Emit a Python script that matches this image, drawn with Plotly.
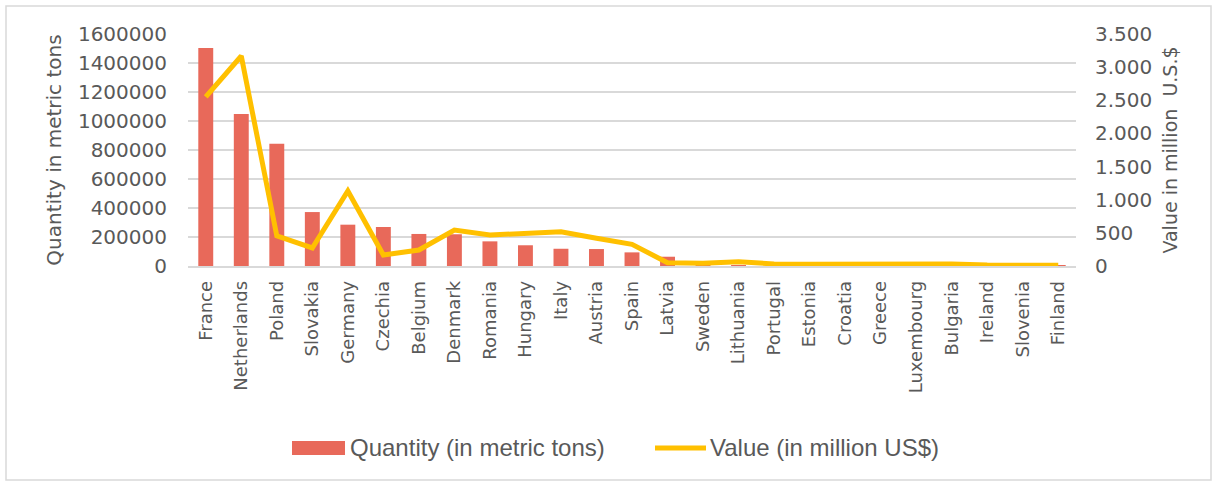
import plotly.graph_objects as go

countries = ["France", "Netherlands", "Poland", "Slovakia", "Germany", "Czechia", "Belgium",
             "Denmark", "Romania", "Hungary", "Italy", "Austria", "Spain", "Latvia", "Sweden",
             "Lithuania", "Portugal", "Estonia", "Croatia", "Greece", "Luxembourg", "Bulgaria",
             "Ireland", "Slovenia", "Finland"]
quantity = [1503000, 1048000, 843000, 372000, 285000, 269000, 221000,
            219000, 170000, 143000, 119000, 117000, 94000, 64000, 6000,
            5000, 4000, 3000, 3000, 2500, 2000, 2500, 1500, 1500, 1000]
value = [2550, 3168, 453, 272, 1131, 166, 241,
         543, 468, 497, 517, 418, 327, 50, 40,
         65, 30, 28, 30, 25, 20, 30, 15, 18, 10]

W, H = 1213, 484
L, R, T, B = 188, 1076, 34, 266

def px(x):
    return (x - L) / (R - L)

def py(y):
    return (B - y) / (B - T)

TXT = "#595959"
FAM = "Century Gothic, DejaVu Sans"
TICKFONT = dict(family=FAM, size=20, color=TXT)
LEGFONT = dict(family="Liberation Sans, Arial", size=24, color=TXT)

fig = go.Figure()
fig.add_trace(go.Bar(x=countries, y=quantity, name="Quantity (in metric tons)",
                     marker=dict(color="#E8695A", line=dict(width=0)), yaxis="y"))
fig.add_trace(go.Scatter(x=countries, y=value, name="Value (in million US$)", mode="lines",
                         line=dict(color="#FFC000", width=5), yaxis="y2"))

shapes = [
    dict(type="rect", xref="paper", yref="paper", x0=px(6), x1=px(1211), y0=py(480), y1=py(6),
         line=dict(color="#d9d9d9", width=1.5), fillcolor="rgba(0,0,0,0)", layer="below"),
    dict(type="rect", xref="paper", yref="paper", x0=px(292), x1=px(345), y0=py(455), y1=py(441),
         line=dict(width=0), fillcolor="#E8695A"),
    dict(type="line", xref="paper", yref="paper", x0=px(655), x1=px(706), y0=py(448), y1=py(448),
         line=dict(color="#FFC000", width=5)),
]
annotations = [
    dict(text="Quantity (in metric tons)", xref="paper", yref="paper", x=px(348), y=py(448),
         xanchor="left", yanchor="middle", showarrow=False, font=LEGFONT),
    dict(text="Value (in million US$)", xref="paper", yref="paper", x=px(708), y=py(448),
         xanchor="left", yanchor="middle", showarrow=False, font=LEGFONT),
]

fig.update_layout(
    width=W, height=H,
    margin=dict(l=L, r=W - R, t=T, b=H - B, autoexpand=False),
    paper_bgcolor="white", plot_bgcolor="white",
    showlegend=False,
    bargap=0.58,
    separators=",.",
    shapes=shapes, annotations=annotations,
    xaxis=dict(tickangle=-90, tickfont=dict(family=FAM, size=18, color=TXT),
               showline=True, linecolor="#d9d9d9", linewidth=1.5, showgrid=False,
               ticks="", ticklabelstandoff=6, automargin=False),
    yaxis=dict(range=[0, 1600000], dtick=200000, tickformat="d", tickfont=TICKFONT,
               showgrid=True, gridcolor="#d9d9d9", gridwidth=1.5, zeroline=False,
               showline=False, ticks="", ticklabelstandoff=20, automargin=False,
               title=dict(text="Quantity in metric tons", standoff=10,
                          font=dict(family=FAM, size=20, color=TXT))),
    yaxis2=dict(range=[0, 3500], dtick=500, tickformat=",d", tickfont=TICKFONT, overlaying="y",
                side="right", showgrid=False, zeroline=False, showline=False, ticks="",
                ticklabelstandoff=18, automargin=False,
                title=dict(text="Value in million  U.S.$", standoff=12,
                           font=dict(family=FAM, size=19, color=TXT))),
)

fig.write_html("out.html")
